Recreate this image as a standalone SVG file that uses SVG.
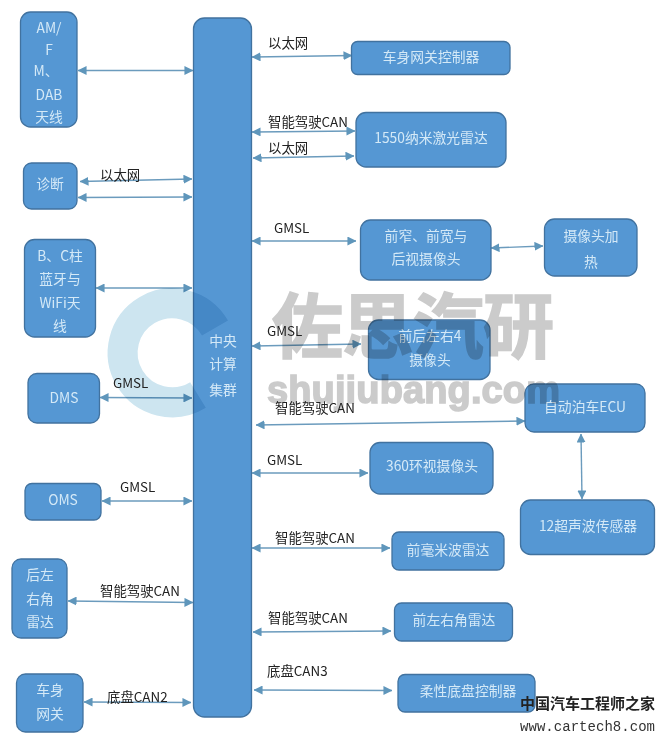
<svg xmlns="http://www.w3.org/2000/svg" width="666" height="741" viewBox="0 0 666 741">
<style>
text{font-family:"Noto Sans CJK SC","Noto Sans",sans-serif}
.n{fill:#5597d3;stroke:#41729f;stroke-width:1.3}
.t{fill:#d4e9f7;font-size:13.8px;text-anchor:middle}
.l{fill:#222;font-size:13.4px}
.c{stroke:#6b9bbd;stroke-width:1.4;fill:none;marker-start:url(#a);marker-end:url(#a)}
.w{fill:#cbcbcb;stroke:#cbcbcb;stroke-width:1.5;paint-order:stroke;font-weight:700}
.m{mix-blend-mode:multiply}
</style>
<defs>
<marker id="a" viewBox="0 0 10 10" refX="9.5" refY="5" markerWidth="9" markerHeight="9" markerUnits="userSpaceOnUse" orient="auto-start-reverse"><path d="M0 0L10 5L0 10Z" fill="#5f96bb"/></marker>
</defs>
<rect width="666" height="741" fill="#fff"/>
<g id="connectors">
<path class="c" d="M78 70.5L193 70.5"/>
<path class="c" d="M80 181.5L192 179"/>
<path class="c" d="M78 197.5L192 197"/>
<path class="c" d="M96 288L192 288"/>
<path class="c" d="M100 397.5L192 398"/>
<path class="c" d="M102 501L192 501"/>
<path class="c" d="M68 601L193 602.5"/>
<path class="c" d="M84 702L191 702.5"/>
<path class="c" d="M252 57L352 55.5"/>
<path class="c" d="M252 132L355 131"/>
<path class="c" d="M253 158L354 156"/>
<path class="c" d="M252 241L356 241"/>
<path class="c" d="M252 346L361 344"/>
<path class="c" d="M256 425L525 421"/>
<path class="c" d="M252 473L368 473"/>
<path class="c" d="M252 548L390 548"/>
<path class="c" d="M253 632L391 631"/>
<path class="c" d="M254 690L392 690.5"/>
<path class="c" d="M491 248L543 246"/>
<path class="c" d="M581 434L582 499"/>
</g>
<g id="n-central"><rect class="n" x="193.5" y="18" width="58" height="699" rx="11"/><text class="t" x="223" y="346">中央</text><text class="t" x="223" y="369">计算</text><text class="t" x="223" y="395">集群</text></g>
<g id="n-am"><rect class="n" x="20.5" y="12" width="56.5" height="115" rx="10"/><text class="t" x="49" y="33">AM/</text><text class="t" x="49" y="55">F</text><text class="t" x="46" y="76">M、</text><text class="t" x="49" y="100">DAB</text><text class="t" x="49" y="122">天线</text></g>
<g id="n-diag"><rect class="n" x="23.5" y="163" width="53.5" height="46" rx="8"/><text class="t" x="50" y="189">诊断</text></g>
<g id="n-bc"><rect class="n" x="24.5" y="239.5" width="71" height="97.5" rx="10"/><text class="t" x="60" y="261">B、C柱</text><text class="t" x="60" y="284">蓝牙与</text><text class="t" x="60" y="308">WiFi天</text><text class="t" x="60" y="331">线</text></g>
<g id="n-dms"><rect class="n" x="28" y="373.5" width="71.5" height="49.5" rx="9"/><text class="t" x="64" y="403">DMS</text></g>
<g id="n-oms"><rect class="n" x="25" y="483.5" width="76" height="36.5" rx="7"/><text class="t" x="63" y="505">OMS</text></g>
<g id="n-rear"><rect class="n" x="12" y="559" width="55" height="79" rx="9"/><text class="t" x="40" y="580">后左</text><text class="t" x="40" y="604">右角</text><text class="t" x="40" y="627">雷达</text></g>
<g id="n-bodygw"><rect class="n" x="16.5" y="674" width="66.5" height="58" rx="9"/><text class="t" x="50" y="695">车身</text><text class="t" x="50" y="719">网关</text></g>
<g id="n-bgc"><rect class="n" x="351.5" y="41.5" width="158.5" height="33" rx="6"/><text class="t" x="431" y="62">车身网关控制器</text></g>
<g id="n-lidar"><rect class="n" x="356" y="112.5" width="150" height="54.5" rx="10"/><text class="t" x="431" y="143">1550纳米激光雷达</text></g>
<g id="n-front"><rect class="n" x="360.5" y="220" width="130.5" height="60" rx="10"/><text class="t" x="426" y="241">前窄、前宽与</text><text class="t" x="426" y="264">后视摄像头</text></g>
<g id="n-heat"><rect class="n" x="544.5" y="219" width="92.5" height="57" rx="10"/><text class="t" x="591" y="241">摄像头加</text><text class="t" x="591" y="267">热</text></g>
<g id="n-four"><rect class="n" x="368.5" y="320" width="121.5" height="59.5" rx="10"/><text class="t" x="430" y="341">前后左右4</text><text class="t" x="430" y="365">摄像头</text></g>
<g id="n-park"><rect class="n" x="525" y="384" width="120" height="48" rx="9"/><text class="t" x="585" y="412">自动泊车ECU</text></g>
<g id="n-360"><rect class="n" x="370" y="442.5" width="123" height="51.5" rx="10"/><text class="t" x="432" y="471">360环视摄像头</text></g>
<g id="n-ultra"><rect class="n" x="520.5" y="500" width="134" height="54.5" rx="10"/><text class="t" x="588" y="531">12超声波传感器</text></g>
<g id="n-mmw"><rect class="n" x="392" y="532" width="112" height="38" rx="7"/><text class="t" x="448" y="555">前毫米波雷达</text></g>
<g id="n-corner"><rect class="n" x="394.5" y="603" width="118" height="38" rx="7"/><text class="t" x="454" y="625">前左右角雷达</text></g>
<g id="n-chassis"><rect class="n" x="398" y="674.5" width="137" height="37.5" rx="7"/><text class="t" x="468" y="696">柔性底盘控制器</text></g>
<g id="watermark">
<path class="m" d="M215 328A49.5 49.5 0 1 0 198 395" fill="none" stroke="#cde5f0" stroke-width="30"/>
<text class="w m" x="272" y="352" font-size="71" textLength="282">佐思汽研</text>
<text class="w m" x="267" y="403" font-size="38" textLength="293" style="font-family:'Liberation Sans',sans-serif">shujiubang.com</text>
<text x="520" y="709" font-size="15" font-weight="700" fill="#222" textLength="135">中国汽车工程师之家</text>
<text x="520" y="731" font-size="14" fill="#333" style="font-family:'Liberation Mono',monospace" textLength="135">www.cartech8.com</text>
</g>
<g id="labels">
<text class="l" x="268" y="48">以太网</text>
<text class="l" x="268" y="127">智能驾驶CAN</text>
<text class="l" x="268" y="153">以太网</text>
<text class="l" x="100" y="180">以太网</text>
<text class="l" x="274" y="233">GMSL</text>
<text class="l" x="267" y="336">GMSL</text>
<text class="l" x="113" y="388">GMSL</text>
<text class="l" x="275" y="413">智能驾驶CAN</text>
<text class="l" x="267" y="465">GMSL</text>
<text class="l" x="120" y="492">GMSL</text>
<text class="l" x="275" y="543">智能驾驶CAN</text>
<text class="l" x="100" y="596">智能驾驶CAN</text>
<text class="l" x="268" y="623">智能驾驶CAN</text>
<text class="l" x="267" y="676">底盘CAN3</text>
<text class="l" x="107" y="702">底盘CAN2</text>
</g>
</svg>
